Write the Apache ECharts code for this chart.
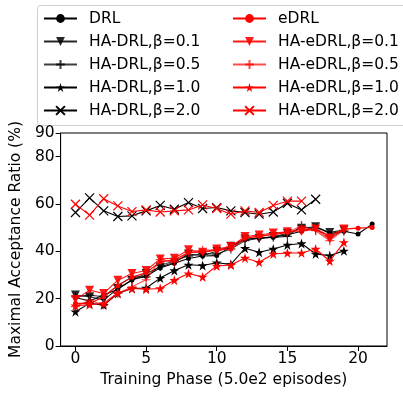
<!DOCTYPE html>
<html>
<head>
<meta charset="utf-8">
<script src="https://cdn.jsdelivr.net/npm/echarts@6/dist/echarts.min.js"></script>
<style>
html,body{margin:0;padding:0;background:#fff;}
#chart{width:403px;height:393px;}
</style>
</head>
<body>
<div id="chart"></div>
<script>
// Tick positions
const xTicks = [0, 5, 10, 15, 20];
const yTicks = [0, 20, 40, 60, 80, 90];

// Maximal acceptance ratio (%) per training phase
const drl      = [20.5, 19.0, 21.5, 24.0, 28.0, 29.5, 33.0, 35.0, 37.0, 38.0, 38.2, 42.0, 45.0, 45.5, 46.0, 47.0, 48.5, 50.4, 47.5, 48.5, 47.3, 51.5];
const edrl     = [18.0, 18.0, 20.8, 25.5, 29.0, 31.0, 35.5, 36.5, 39.5, 39.6, 40.5, 41.0, 45.5, 46.5, 47.0, 48.0, 49.4, 49.4, 46.6, 49.4, 49.8, 50.1];
const haDrl01  = [21.5, 20.8, 19.4, 24.3, 27.8, 30.6, 33.4, 35.4, 38.9, 38.2, 40.0, 42.1, 45.2, 45.5, 46.3, 47.5, 49.8, 50.4, 48.0, 49.0];
const haEdrl01 = [19.6, 23.6, 22.2, 27.8, 30.6, 31.9, 36.8, 37.1, 40.7, 39.6, 41.0, 42.0, 46.3, 46.9, 47.7, 48.3, 48.4, 49.4, 45.2, 49.4];
const haDrl05  = [20.8, 21.5, 20.8, 25.7, 29.2, 29.2, 34.0, 36.0, 38.0, 39.0, 38.9, 41.0, 44.5, 45.5, 45.9, 46.3, 50.8, 49.0, 46.6, 48.5];
const haEdrl05 = [16.6, 19.4, 17.3, 22.2, 25.0, 28.0, 36.5, 35.4, 39.5, 40.5, 40.5, 42.1, 46.0, 46.0, 47.5, 48.0, 50.8, 48.7, 44.5, 49.0];
const haDrl10  = [14.5, 18.0, 17.3, 22.2, 24.3, 24.5, 28.7, 31.9, 34.3, 34.0, 35.2, 34.5, 41.3, 39.6, 41.0, 42.7, 43.3, 38.9, 38.2, 40.2];
const haEdrl10 = [17.0, 17.5, 18.0, 22.5, 24.3, 24.0, 24.3, 27.8, 30.6, 29.2, 33.8, 34.2, 37.2, 35.4, 38.9, 39.3, 39.3, 41.0, 35.9, 43.8];
const haDrl20  = [56.4, 62.6, 57.1, 54.7, 55.0, 57.1, 59.4, 57.8, 60.6, 58.1, 58.5, 57.1, 56.4, 55.7, 56.6, 60.3, 57.5, 62.0];
const haEdrl20 = [59.9, 55.3, 62.2, 59.2, 56.8, 57.5, 56.6, 57.1, 57.5, 59.6, 58.1, 55.7, 57.1, 56.4, 59.4, 61.2, 61.2];

const FONT = 'DejaVu Sans';
const FS = 15.5;

// Marker shapes
const STAR = 'path://M50,0 L61.17,34.63 L97.55,34.55 L68.07,55.87 L79.39,90.45 L50,69 L20.61,90.45 L31.93,55.87 L2.45,34.55 L38.83,34.63 Z';
const PLUS = 'path://M5,0 L5,10 M0,5 L10,5';
const CROSS = 'path://M0,0 L10,10 M10,0 L0,10';

function pairs(vals) { return vals.map((v, i) => [i, v]); }

function mk(name, vals, color, symbol, size, opts) {
  opts = opts || {};
  const outline = (symbol === PLUS || symbol === CROSS);
  return {
    name: name,
    type: 'line',
    data: pairs(vals),
    symbol: symbol,
    symbolSize: size,
    symbolRotate: opts.rotate || 0,
    showSymbol: true,
    animation: false,
    lineStyle: { color: color, width: 1.1, opacity: opts.alpha || 1 },
    itemStyle: {
      color: outline ? 'rgba(0,0,0,0)' : color,
      borderColor: color,
      borderWidth: outline ? 1.2 : 0,
      opacity: opts.alpha || 1
    },
    emphasis: { disabled: true },
    z: opts.z || 2
  };
}

const BLACK = '#000000';
const RED = '#ff0000';

const series = [
  mk('DRL', drl, BLACK, 'circle', 5),
  mk('HA-DRL,β=0.1', haDrl01, BLACK, 'triangle', 9, { rotate: 180, alpha: 0.85 }),
  mk('HA-DRL,β=0.5', haDrl05, BLACK, PLUS, 9, { alpha: 0.75 }),
  mk('HA-DRL,β=1.0', haDrl10, BLACK, STAR, 10),
  mk('HA-DRL,β=2.0', haDrl20, BLACK, CROSS, 9),
  mk('eDRL', edrl, RED, 'circle', 5, { z: 3 }),
  mk('HA-eDRL,β=0.1', haEdrl01, RED, 'triangle', 9, { rotate: 180, alpha: 0.9, z: 3 }),
  mk('HA-eDRL,β=0.5', haEdrl05, RED, PLUS, 9, { alpha: 0.7, z: 3 }),
  mk('HA-eDRL,β=1.0', haEdrl10, RED, STAR, 10, { z: 3 }),
  mk('HA-eDRL,β=2.0', haEdrl20, RED, CROSS, 9, { z: 3 })
];

const legendBase = {
  orient: 'vertical',
  top: 10.5,
  padding: 0,
  itemWidth: 33,
  itemHeight: 11,
  itemGap: 7,
  height: 130,
  selectedMode: false,
  textStyle: { fontFamily: FONT, fontSize: FS, lineHeight: 16, color: '#000', padding: [0, 0, 0, 7] }
};

const chart = echarts.init(document.getElementById('chart'), null, { renderer: 'canvas' });
chart.setOption({
  backgroundColor: '#fff',
  animation: false,
  textStyle: { fontFamily: FONT },
  graphic: [{
    type: 'rect',
    shape: { x: 37.5, y: 5.5, width: 380, height: 120, r: 3 },
    style: { fill: 'rgba(255,255,255,0.8)', stroke: '#d0d0d0', lineWidth: 1 },
    z: 0
  }],
  legend: [
    Object.assign({}, legendBase, { left: 43, data: ['DRL', 'HA-DRL,β=0.1', 'HA-DRL,β=0.5', 'HA-DRL,β=1.0', 'HA-DRL,β=2.0'] }),
    Object.assign({}, legendBase, { left: 232, data: ['eDRL', 'HA-eDRL,β=0.1', 'HA-eDRL,β=0.5', 'HA-eDRL,β=1.0', 'HA-eDRL,β=2.0'] })
  ],
  grid: { left: 55, right: 16, top: 133, bottom: 45, show: true, borderColor: '#000', borderWidth: 1, containLabel: false },
  xAxis: {
    type: 'value',
    min: -1.05,
    max: 22.05,
    name: 'Training Phase (5.0e2 episodes)',
    nameLocation: 'middle',
    nameGap: 26,
    nameTextStyle: { fontFamily: FONT, fontSize: FS, color: '#000' },
    axisLine: { show: true, onZero: false, lineStyle: { color: '#000', width: 1 } },
    axisTick: { show: true, length: 5, lineStyle: { color: '#000' }, customValues: xTicks },
    axisLabel: { fontFamily: FONT, fontSize: FS, color: '#000', margin: 5, customValues: xTicks },
    splitLine: { show: false }
  },
  yAxis: {
    type: 'value',
    min: 0,
    max: 90,
    name: 'Maximal Acceptance Ratio (%)',
    nameLocation: 'middle',
    nameRotate: 90,
    nameGap: 28,
    nameTextStyle: { fontFamily: FONT, fontSize: FS, color: '#000' },
    axisLine: { show: true, onZero: false, lineStyle: { color: '#000', width: 1 } },
    axisTick: { show: true, length: 5, lineStyle: { color: '#000' }, customValues: yTicks },
    axisLabel: { fontFamily: FONT, fontSize: FS, color: '#000', margin: 6, customValues: yTicks },
    splitLine: { show: false }
  },
  series: series
});
</script>
</body>
</html>
